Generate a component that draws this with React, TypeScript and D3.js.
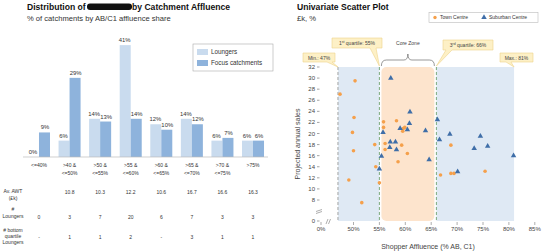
import React from 'react';
import * as d3 from 'd3';

// left panel: distribution by catchment affluence band
const bands = ['<=40%', '>40 & <=50%', '>50 & <=55%', '>55 & <=60%', '>60 & <=65%', '>65 & <=70%', '>70 & <=75%', '>75%'];
const loungeShare = [0, 6, 14, 41, 12, 14, 6, 6];
const focusShare = [9, 29, 13, 14, 10, 12, 7, 6];
const avgAwt = ['', '10.8', '10.3', '12.2', '10.6', '16.7', '16.6', '16.3'];
const loungeCount = ['0', '3', '7', '20', '6', '7', '3', '3'];
const bottomQuartile = ['-', '1', '1', '2', '-', '3', '1', '1'];

// right panel: shopper affluence vs projected annual sales
const townAffluence = [50.3, 47.4, 50.1, 49.8, 54.1, 50.0, 54.3, 49.1, 55.0, 51.6, 55.8, 55.8, 58.3, 59.6, 59.9, 59.5, 56.1, 59.3, 56.1, 60.4, 58.6, 66.8, 68.8, 69.4, 68.8, 75.4];
const townSales = [29.5, 27.1, 22.9, 20.2, 18.0, 16.9, 14.0, 11.6, 11.1, 7.0, 22.1, 21.1, 22.3, 20.9, 21.1, 20.4, 18.2, 17.9, 17.1, 16.4, 14.9, 12.5, 12.8, 12.8, 17.9, 13.2];
const suburbAffluence = [57.2, 60.9, 60.8, 59.0, 60.4, 55.7, 63.9, 66.2, 66.6, 68.6, 57.1, 58.1, 57.0, 58.3, 55.4, 55.0, 64.6, 70.1, 74.5, 73.3, 75.9, 80.9];
const suburbSales = [30.0, 23.9, 21.8, 20.9, 20.7, 20.2, 20.5, 22.5, 18.9, 19.9, 18.5, 18.5, 17.5, 17.1, 15.9, 13.6, 15.3, 13.1, 19.5, 17.3, 17.7, 16.0];
const yTicks = [0, 8, 10, 12, 14, 16, 18, 20, 22, 24, 26, 28, 30, 32];
const xTicks = [0, 50, 55, 60, 65, 70, 75, 80, 85];
const minShare = 47;
const q1Share = 55;
const q3Share = 66;
const maxShare = 81;

const FONT = 'Liberation Sans, Arial, sans-serif';
const LOUNGE = '#c9dbee';
const FOCUS = '#8eb3dc';
const ORANGE = '#f5a04b';
const BLUE = '#3f6ea8';
const CALLOUT_FILL = '#fdf0c6';
const CALLOUT_LINE = '#efd48c';

const calloutPath = (x0: number, y0: number, x1: number, y1: number, b0: number, b1: number, tx: number, ty: number) =>
  `M${x0},${y0}H${x1}V${y1}H${b1}L${tx},${ty}L${b0},${y1}H${x0}Z`;

const App = () => {
  // ---- left chart scales
  const x0 = d3.scaleBand<string>().domain(bands).range([23.7, 268.3]).paddingInner(0.28).paddingOuter(0.14);
  const x1 = d3.scaleBand<string>().domain(['lounge', 'focus']).range([0, x0.bandwidth()]);
  const y = d3.scaleLinear().domain([0, 45]).range([157, 34.2]);
  const cx = (b: string) => (x0(b) ?? 0) + x0.bandwidth() / 2;

  // ---- right chart scales (broken axes)
  const sx = d3.scaleLinear().domain([0, 45, 85]).range([321, 327.6, 534.8]);
  const sy = d3.scaleLinear().domain([0, 8, 32]).range([221, 200, 67]);
  const tri = d3.symbol(d3.symbolTriangle, 13)();
  const top = sy(32);
  const bottom = sy(0);

  return (
    <svg width={545} height={252} style={{ display: 'block', position: 'absolute', left: 0, top: 0, fontFamily: FONT }}>
      <rect width={545} height={252} fill="#fff" />

      {/* ---------- left: distribution ---------- */}
      <text x={27} y={10} fontSize={8.6} fontWeight="bold" fill="#111">Distribution of</text>
      <rect x={87} y={3.5} width={45} height={6.5} rx={3} fill="#111" />
      <text x={132} y={10} fontSize={8.6} fontWeight="bold" fill="#111">by Catchment Affluence</text>
      <text x={27} y={21} fontSize={7.6} fill="#333">% of catchments by AB/C1 affluence share</text>

      {bands.map((b, i) => (
        <g key={b} transform={`translate(${x0(b)},0)`}>
          <rect x={x1('lounge')} y={y(loungeShare[i])} width={x1.bandwidth()} height={y(0) - y(loungeShare[i])} fill={LOUNGE} />
          <rect x={x1('focus')} y={y(focusShare[i])} width={x1.bandwidth()} height={y(0) - y(focusShare[i])} fill={FOCUS} />
          <text x={(x1('lounge') ?? 0) + x1.bandwidth() / 2 - 0.5} y={y(loungeShare[i]) - 3} fontSize={5.9} textAnchor="middle" fill="#333">{loungeShare[i]}%</text>
          <text x={(x1('focus') ?? 0) + x1.bandwidth() / 2 + 0.5} y={y(focusShare[i]) - 3} fontSize={5.9} textAnchor="middle" fill="#333">{focusShare[i]}%</text>
        </g>
      ))}
      <line x1={23} x2={268} y1={y(0)} y2={y(0)} stroke="#bbb" strokeWidth={0.7} />

      {bands.map(b => {
        const parts = b.split(' & ');
        return (
          <text key={b} x={cx(b)} y={167} fontSize={5} textAnchor="middle" fill="#333">
            <tspan x={cx(b)}>{parts.length > 1 ? parts[0] + ' &' : parts[0]}</tspan>
            {parts.length > 1 && <tspan x={cx(b)} dy={8}>{parts[1]}</tspan>}
          </text>
        );
      })}

      {/* table rows */}
      <text x={13} y={193} fontSize={5} textAnchor="middle" fill="#333">
        <tspan x={13}>Av. AWT</tspan>
        <tspan x={13} dy={6.5}>(£k)</tspan>
      </text>
      <text x={13} y={211} fontSize={5} textAnchor="middle" fill="#333">
        <tspan x={13}>#</tspan>
        <tspan x={13} dy={6.5}>Loungers</tspan>
      </text>
      <text x={13} y={232} fontSize={5} textAnchor="middle" fill="#333">
        <tspan x={13}># bottom</tspan>
        <tspan x={13} dy={6}>quartile</tspan>
        <tspan x={13} dy={6}>Loungers</tspan>
      </text>
      {bands.map((b, i) => (
        <g key={b} fontSize={5} fill="#333" textAnchor="middle">
          <text x={cx(b)} y={194}>{avgAwt[i]}</text>
          <text x={cx(b)} y={219}>{loungeCount[i]}</text>
          <text x={cx(b)} y={239}>{bottomQuartile[i]}</text>
        </g>
      ))}

      {/* legend */}
      <rect x={193} y={44} width={80} height={27} fill="#fff" stroke="#aaa" strokeWidth={0.6} />
      <rect x={197} y={49} width={11} height={6} fill={LOUNGE} />
      <text x={211} y={54.3} fontSize={6.3} fill="#333">Loungers</text>
      <rect x={197} y={60} width={11} height={6} fill={FOCUS} />
      <text x={211} y={65.3} fontSize={6.3} fill="#333">Focus catchments</text>

      {/* ---------- right: scatter ---------- */}
      <text x={297} y={10} fontSize={8.6} fontWeight="bold" fill="#111">Univariate Scatter Plot</text>
      <text x={297} y={21} fontSize={7.6} fill="#333">£k, %</text>

      <rect x={429} y={12.5} width={109} height={10} fill="#fff" stroke="#bbb" strokeWidth={0.6} />
      <circle cx={435} cy={17.5} r={1.7} fill={ORANGE} />
      <text x={440} y={19.3} fontSize={5} fill="#333">Town Centre</text>
      <path d={tri} transform="translate(484,17.3)" fill={BLUE} />
      <text x={489} y={19.3} fontSize={5} fill="#333">Suburban Centre</text>

      {/* zones */}
      <rect x={sx(minShare)} y={top} width={sx(q1Share) - sx(minShare)} height={bottom - top} fill="#dfe9f4" />
      <rect x={sx(q3Share)} y={top} width={sx(maxShare) - sx(q3Share)} height={bottom - top} fill="#dfe9f4" />
      <rect x={sx(q1Share) + 2} y={top} width={sx(q3Share) - sx(q1Share) - 4} height={bottom - top} rx={5} fill="#fde4cd" />

      <line x1={sx(minShare)} x2={sx(minShare)} y1={top} y2={bottom} stroke="#9a9a9a" strokeWidth={0.9} strokeDasharray="3,2" />
      <line x1={sx(q1Share)} x2={sx(q1Share)} y1={top} y2={bottom} stroke="#6fa36f" strokeWidth={0.9} strokeDasharray="3,2" />
      <line x1={sx(q3Share)} x2={sx(q3Share)} y1={top} y2={bottom} stroke="#6fa36f" strokeWidth={0.9} strokeDasharray="3,2" />

      {/* callouts */}
      <g fill={CALLOUT_FILL} stroke={CALLOUT_LINE} strokeWidth={0.6}>
        <path d={calloutPath(303, 53, 335, 62, 327, 332, sx(minShare), top)} />
        <path d={calloutPath(332, 38, 382, 48, 370, 376, sx(q1Share), top - 1)} />
        <path d={calloutPath(443, 40, 493, 50, 446, 452, sx(q3Share), top - 1)} />
        <path d={calloutPath(500, 53, 533, 62, 506, 511, sx(maxShare), top)} />
      </g>
      <g fontSize={5} fill="#444" textAnchor="middle">
        <text x={319} y={59.5}>Min.: {minShare}%</text>
        <text x={357} y={44.8}>1<tspan fontSize={3.5} dy={-1.5}>st</tspan><tspan dy={1.5}> quartile: {q1Share}%</tspan></text>
        <text x={468} y={46.8}>3<tspan fontSize={3.5} dy={-1.5}>rd</tspan><tspan dy={1.5}> quartile: {q3Share}%</tspan></text>
        <text x={516.5} y={59.5}>Max.: {maxShare}%</text>
        <text x={(sx(q1Share) + sx(q3Share)) / 2} y={44.5}>Core Zone</text>
      </g>
      {(() => {
        const a = sx(q1Share) + 2;
        const b = sx(q3Share) - 2;
        const m = (a + b) / 2;
        const d = `M${a},66 Q${a},60 ${a + 5},60 H${m - 4} Q${m},60 ${m},54 Q${m},60 ${m + 4},60 H${b - 5} Q${b},60 ${b},66`;
        return <path d={d} fill="none" stroke="#555" strokeWidth={0.6} />;
      })()}

      {/* axes */}
      {yTicks.map(t => (
        <g key={t}>
          <text x={315} y={sy(t) + 2} fontSize={6} textAnchor="end" fill="#444">{t}</text>
          <line x1={317} x2={319.5} y1={sy(t)} y2={sy(t)} stroke="#666" strokeWidth={0.6} />
        </g>
      ))}
      {xTicks.map(t => (
        <g key={t}>
          <line x1={sx(t)} x2={sx(t)} y1={222} y2={225} stroke="#777" strokeWidth={0.6} />
          <text x={sx(t)} y={231} fontSize={6} textAnchor="middle" fill="#444">{t}%</text>
        </g>
      ))}
      <g stroke="#777" strokeWidth={0.6}>
        <line x1={316} y1={211.5} x2={322} y2={209.5} />
        <line x1={316} y1={213.5} x2={322} y2={211.5} />
        <line x1={326} y1={224} x2={328} y2={219} />
        <line x1={328.5} y1={224} x2={330.5} y2={219} />
      </g>
      <text transform="translate(300,144) rotate(-90)" fontSize={7} textAnchor="middle" fill="#444">Projected annual sales</text>
      <text x={428} y={249} fontSize={7} textAnchor="middle" fill="#444">Shopper Affluence (% AB, C1)</text>

      {/* points */}
      {townAffluence.map((v, i) => (
        <circle key={`t${i}`} cx={sx(v)} cy={sy(townSales[i])} r={1.8} fill={ORANGE} />
      ))}
      {suburbAffluence.map((v, i) => (
        <path key={`s${i}`} d={tri} transform={`translate(${sx(v)},${sy(suburbSales[i])})`} fill={BLUE} />
      ))}
    </svg>
  );
};

export default App;
